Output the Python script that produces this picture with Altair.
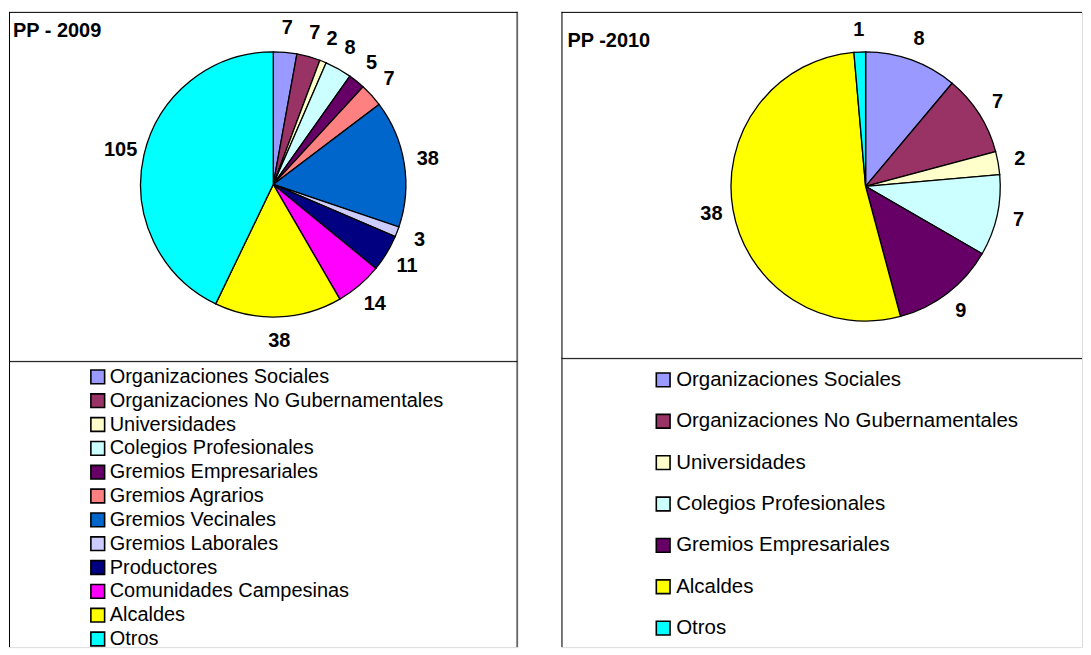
import altair as alt
import pandas as pd

FONT = "Liberation Sans"

all_cats = ["Organizaciones Sociales", "Organizaciones No Gubernamentales", "Universidades",
            "Colegios Profesionales", "Gremios Empresariales", "Gremios Agrarios",
            "Gremios Vecinales", "Gremios Laborales", "Productores",
            "Comunidades Campesinas", "Alcaldes", "Otros"]
all_colors = ["#9999FF", "#993366", "#FFFFCC", "#CCFFFF", "#660066", "#FF8080",
              "#0066CC", "#CCCCFF", "#000080", "#FF00FF", "#FFFF00", "#00FFFF"]

cats_2009 = ["Organizaciones Sociales", "Organizaciones No Gubernamentales", "Universidades",
             "Colegios Profesionales", "Gremios Empresariales", "Gremios Agrarios",
             "Gremios Vecinales", "Gremios Laborales", "Productores",
             "Comunidades Campesinas", "Alcaldes", "Otros"]
vals_2009 = [7, 7, 2, 8, 5, 7, 38, 3, 11, 14, 38, 105]

cats_2010 = ["Organizaciones Sociales", "Organizaciones No Gubernamentales", "Universidades",
             "Colegios Profesionales", "Gremios Empresariales", "Alcaldes", "Otros"]
vals_2010 = [8, 7, 2, 7, 9, 38, 1]

color_scale = alt.Scale(domain=all_cats, range=all_colors)
one = pd.DataFrame({"k": [0]})


def rule(**kw):
    enc = {k: alt.value(v) for k, v in kw.items()}
    return alt.Chart(one).mark_rule(color="black", strokeWidth=1).encode(**enc)


def panel(title, cats, vals, pw, ph, lh, cx, cy, r, lr, tx, ty, sqx, txx, row0, step,
          legfs, closed):
    df = pd.DataFrame({"cat": cats, "value": vals, "idx": list(range(len(cats)))})
    theta = alt.Theta("value:Q", stack=True)
    arcs = alt.Chart(df).mark_arc(outerRadius=r, stroke="black", strokeWidth=1.3).encode(
        theta=theta,
        color=alt.Color("cat:N", scale=color_scale, legend=None),
        order=alt.Order("idx:Q"),
        x=alt.value(cx), y=alt.value(cy),
    )
    labels = alt.Chart(df).mark_text(radius=lr, fontSize=20, fontWeight="bold", font=FONT,
                                     color="black").encode(
        theta=theta,
        order=alt.Order("idx:Q"),
        text=alt.Text("value:Q"),
        x=alt.value(cx), y=alt.value(cy),
    )
    ttl = alt.Chart(pd.DataFrame({"t": [title]})).mark_text(
        align="left", baseline="middle", fontSize=20, fontWeight="bold", font=FONT, color="black"
    ).encode(text="t:N", x=alt.value(tx), y=alt.value(ty))

    pie_frame = [rule(x=0, x2=pw, y=0.5), rule(x=0.5, y=0, y2=ph), rule(x=0, x2=pw, y=ph - 0.5)]
    if closed:
        pie_frame.append(rule(x=pw - 0.5, y=0, y2=ph))
    pie = alt.layer(*pie_frame, arcs, labels, ttl).properties(width=pw, height=ph)

    n_units = lh / step
    d0 = -row0 / step
    yscale = alt.Scale(domain=[d0, d0 + n_units], reverse=True, nice=False, zero=False)
    sq = alt.Chart(df).mark_square(size=190, stroke="black", strokeWidth=1.6, opacity=1,
                                   filled=True).encode(
        y=alt.Y("idx:Q", scale=yscale, axis=None),
        x=alt.value(sqx),
        color=alt.Color("cat:N", scale=color_scale, legend=None),
    )
    txt = alt.Chart(df).mark_text(align="left", baseline="middle", fontSize=legfs, font=FONT,
                                  color="black").encode(
        y=alt.Y("idx:Q", scale=yscale, axis=None),
        x=alt.value(txx),
        text="cat:N",
    )
    leg_frame = [rule(x=0.5, y=0, y2=lh)]
    if closed:
        leg_frame.append(rule(x=pw - 0.5, y=0, y2=lh))
    leg = alt.layer(*leg_frame, sq, txt).properties(width=pw, height=lh)
    return alt.vconcat(pie, leg, spacing=0, bounds="flush").resolve_scale(
        theta="independent", y="independent")


left = panel("PP - 2009", cats_2009, vals_2009, 510, 351, 286,
             265, 173, 133, 157, 4, 19, 89, 101, 15, 23.9, 20, True)
right = panel("PP -2010", cats_2010, vals_2010, 522, 348, 289,
              305, 175, 135, 157, 6, 29, 102, 115, 21, 41.5, 20.5, False)

chart = alt.hconcat(left, right, spacing=42).resolve_scale(
    theta="independent", y="independent", x="independent"
).properties(
    padding={"left": 0, "top": 2, "right": 0, "bottom": 0}
).configure_view(stroke=None).configure(background="white")

chart.save("out.html", embed_options={"renderer": "svg", "actions": False})
